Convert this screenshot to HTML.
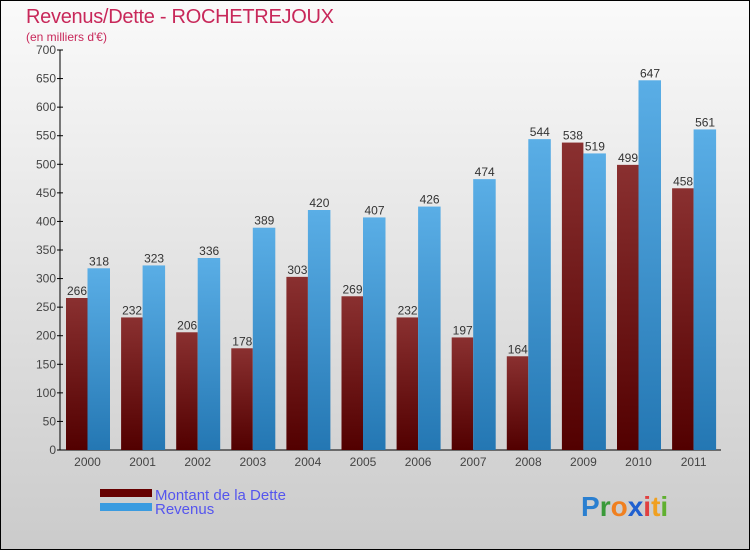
<!DOCTYPE html>
<html><head><meta charset="utf-8"><style>
body{margin:0;width:750px;height:550px;overflow:hidden;font-family:"Liberation Sans",sans-serif}
</style></head><body>
<svg width="750" height="550" xmlns="http://www.w3.org/2000/svg">
<defs>
<linearGradient id="bg" x1="0" y1="0" x2="0" y2="1"><stop offset="0" stop-color="#fafafa"/><stop offset="1" stop-color="#cbcbcb"/></linearGradient>
<linearGradient id="gd" x1="0" y1="0" x2="0" y2="1"><stop offset="0" stop-color="#8a3030"/><stop offset="1" stop-color="#520000"/></linearGradient>
<linearGradient id="gr" x1="0" y1="0" x2="0" y2="1"><stop offset="0" stop-color="#5aaee6"/><stop offset="1" stop-color="#2477b3"/></linearGradient>
</defs>
<rect x="0.5" y="0.5" width="749" height="549" fill="url(#bg)" stroke="#000"/>
<text x="26" y="23" font-size="20" fill="#c8285a" textLength="308">Revenus/Dette - ROCHETREJOUX</text>
<text x="26" y="41" font-size="12" fill="#c8285a">(en milliers d'€)</text>
<g id="axes"></g>
<g id="bars"></g>
<rect x="100" y="489" width="52" height="8" fill="#600"/>
<text x="155" y="500" font-size="15" fill="#5555ee">Montant de la Dette</text>
<rect x="100" y="503" width="52" height="8" fill="#3a9be0"/>
<text x="155" y="514" font-size="15" fill="#5555ee">Revenus</text>
<text x="581" y="516" font-size="28" font-weight="bold"><tspan fill="#2a7fd0">P</tspan><tspan fill="#3a9a3a">r</tspan><tspan fill="#f08020">o</tspan><tspan fill="#2060d0">x</tspan><tspan fill="#e04040">i</tspan><tspan fill="#f0a020">t</tspan><tspan fill="#60b030">i</tspan></text>
</svg>
<script>
const years=["2000","2001","2002","2003","2004","2005","2006","2007","2008","2009","2010","2011"];
const dette=[266,232,206,178,303,269,232,197,164,538,499,458];
const revenus=[318,323,336,389,420,407,426,474,544,519,647,561];
const yTicks=[0,50,100,150,200,250,300,350,400,450,500,550,600,650,700];
const NS="http://www.w3.org/2000/svg";
const x0=60,step=55.1,base=450,plotTop=50,ymax=700;
const y=v=>base-(base-plotTop)*v/ymax;
const gx=i=>x0+i*step+6;
function mk(t,a,p){const e=document.createElementNS(NS,t);for(const k in a)e.setAttribute(k,a[k]);p.appendChild(e);return e;}
const ax=document.getElementById('axes'),bars=document.getElementById('bars');
const yl=mk('line',{x1:x0,y1:plotTop,x2:x0,y2:base,stroke:'#000'},ax);


const xl=mk('line',{x1:x0,y1:base,x2:721,y2:base,stroke:'#000'},ax);


yTicks.forEach(v=>{
 mk('line',{x1:x0-3,y1:y(v),x2:x0+3,y2:y(v),stroke:'#000'},ax);
 const t=mk('text',{x:x0-4,y:y(v)+4,'font-size':12,fill:'#444','text-anchor':'end'},ax);
 t.textContent=v;
 
 
});
years.forEach((yr,i)=>{
 const t=mk('text',{x:gx(i)+21.5,y:466,'font-size':12,fill:'#444','text-anchor':'middle'},ax);
 t.textContent=yr;
 
 
 const b1=mk('rect',{x:gx(i),y:y(dette[i]),width:21.5,height:base-y(dette[i]),fill:'url(#gd)'},bars);
 
 
 const b2=mk('rect',{x:gx(i)+21.5,y:y(revenus[i]),width:22.5,height:base-y(revenus[i]),fill:'url(#gr)'},bars);
 
 
 const l1=mk('text',{x:gx(i)+11,y:y(dette[i])-3,'font-size':12,fill:'#333','text-anchor':'middle'},bars);
 l1.textContent=dette[i];
 
 
 const l2=mk('text',{x:gx(i)+33,y:y(revenus[i])-3,'font-size':12,fill:'#333','text-anchor':'middle'},bars);
 l2.textContent=revenus[i];
 
 
});
</script>
</body></html>
